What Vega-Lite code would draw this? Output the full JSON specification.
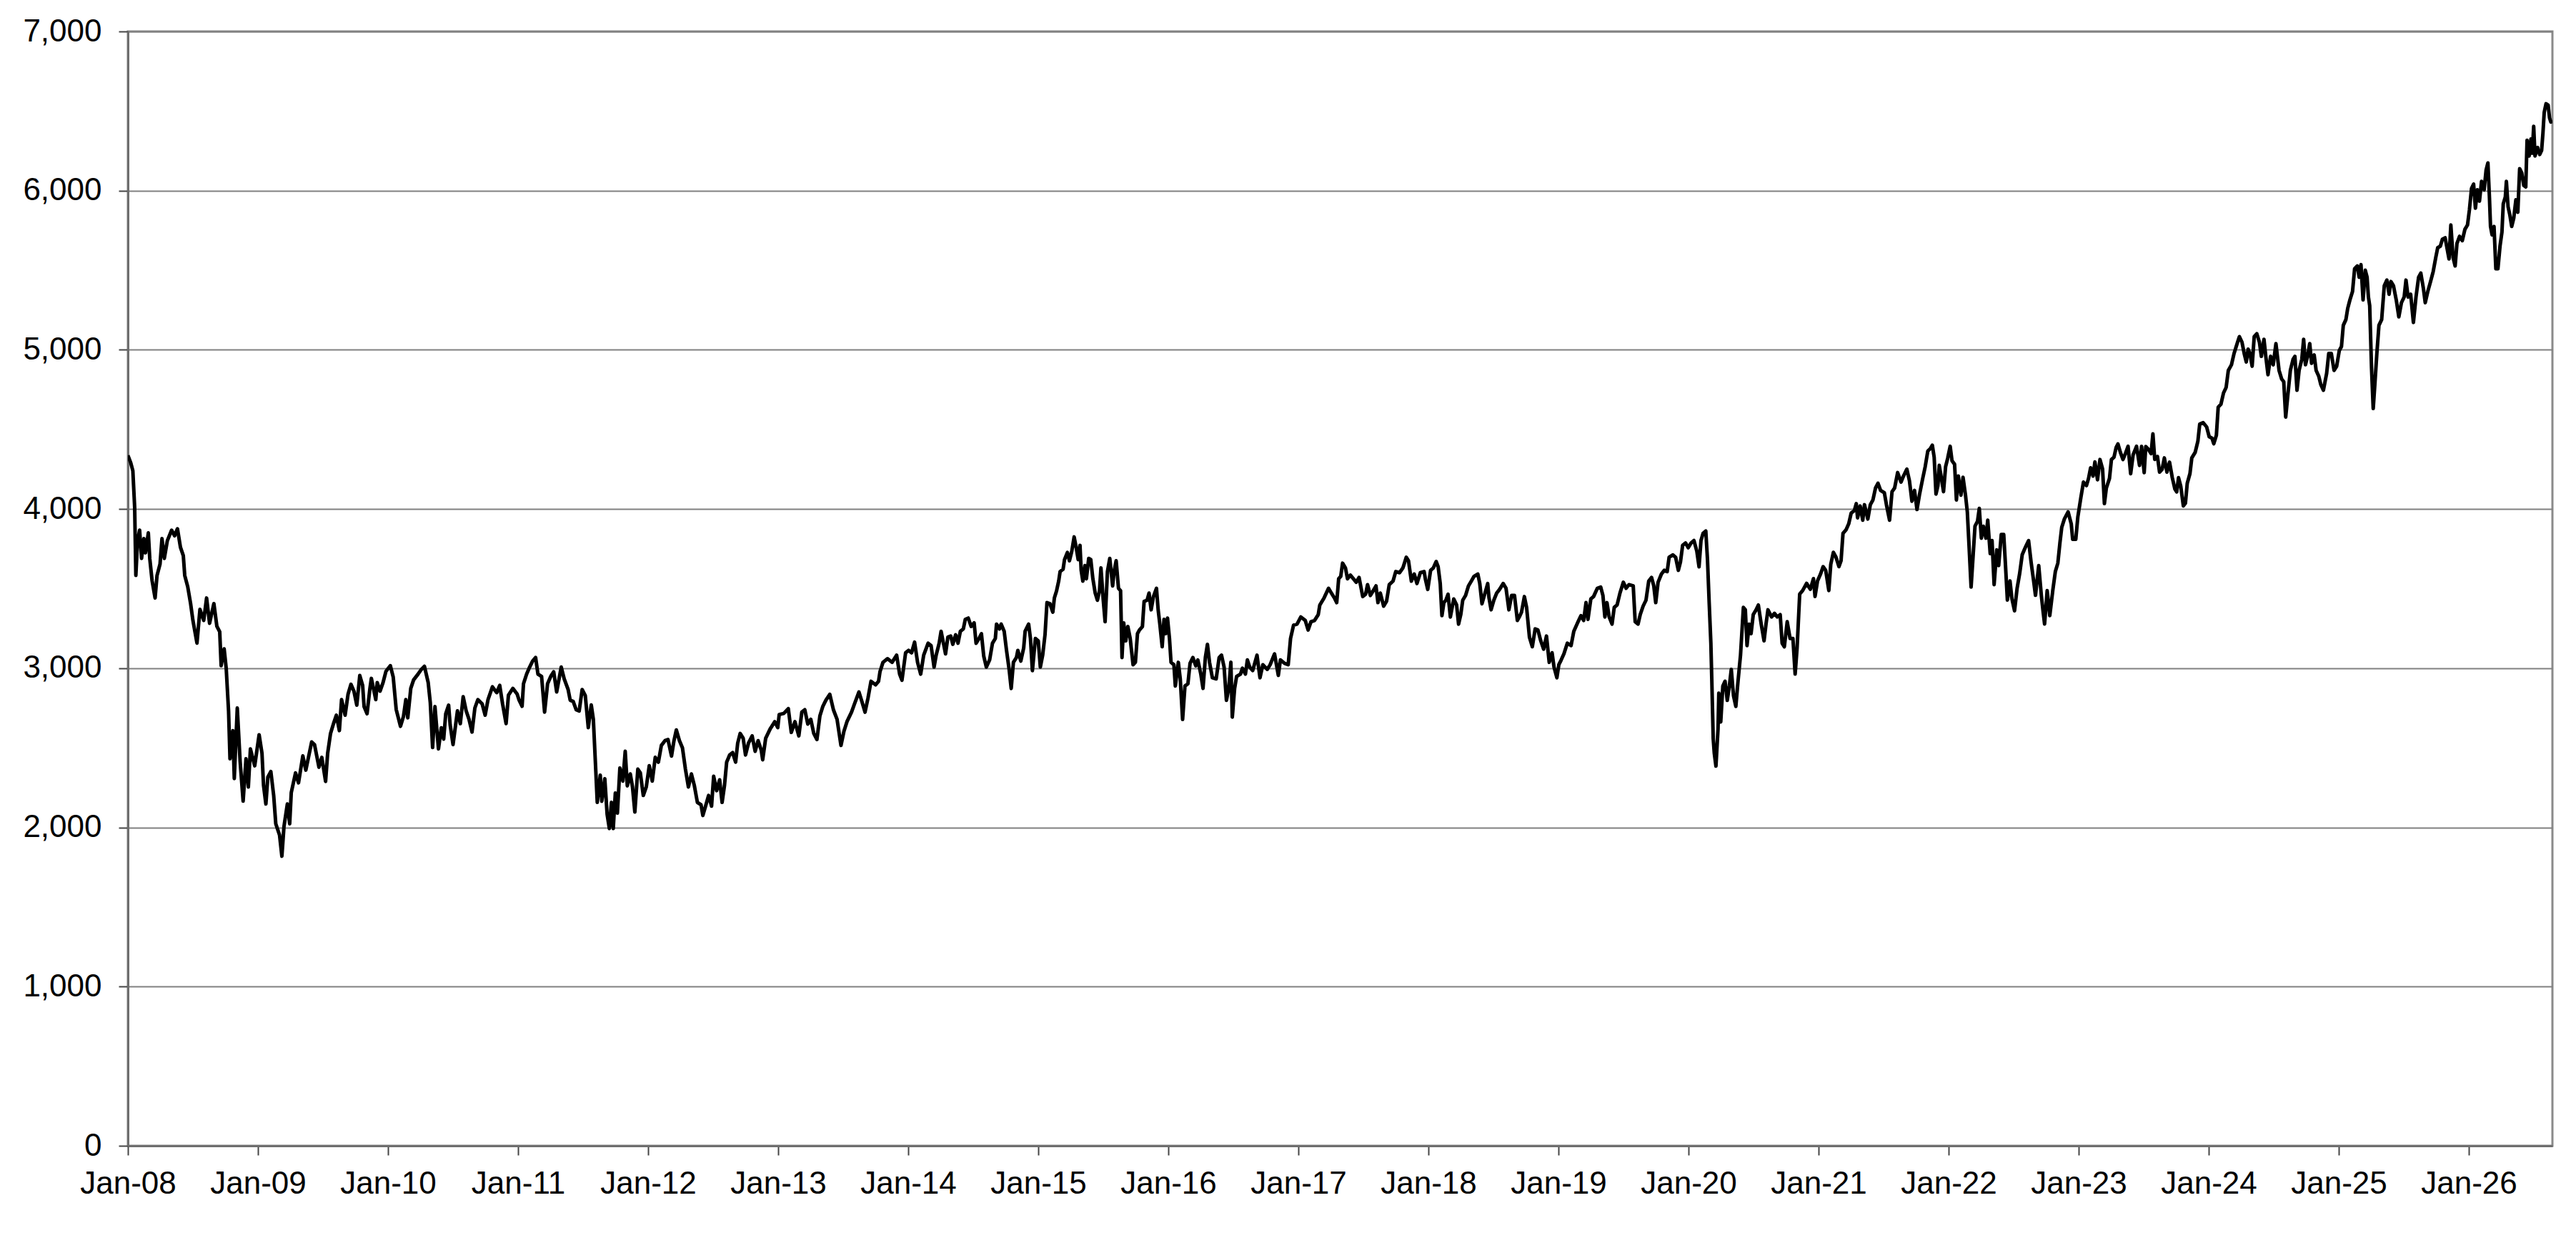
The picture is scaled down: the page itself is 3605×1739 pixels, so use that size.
{
  "$schema": "https://vega.github.io/schema/vega-lite/v6.json",
  "width": 3393,
  "height": 1559,
  "autosize": {"type": "none"},
  "padding": {"left": 179, "top": 44, "right": 33, "bottom": 136},
  "background": "white",
  "data": {
    "values": [
      {"year": 2008.000, "value": 4337}, {"year": 2008.022, "value": 4290}, {"year": 2008.038, "value": 4240}, {"year": 2008.052, "value": 4010},
      {"year": 2008.061, "value": 3583}, {"year": 2008.074, "value": 3800}, {"year": 2008.090, "value": 3867}, {"year": 2008.105, "value": 3690},
      {"year": 2008.123, "value": 3814}, {"year": 2008.135, "value": 3725}, {"year": 2008.157, "value": 3850}, {"year": 2008.168, "value": 3690},
      {"year": 2008.186, "value": 3550}, {"year": 2008.209, "value": 3441}, {"year": 2008.224, "value": 3583}, {"year": 2008.247, "value": 3654},
      {"year": 2008.262, "value": 3814}, {"year": 2008.280, "value": 3690}, {"year": 2008.303, "value": 3800}, {"year": 2008.336, "value": 3867},
      {"year": 2008.359, "value": 3832}, {"year": 2008.381, "value": 3876}, {"year": 2008.404, "value": 3760}, {"year": 2008.426, "value": 3707},
      {"year": 2008.437, "value": 3583}, {"year": 2008.460, "value": 3512}, {"year": 2008.482, "value": 3406}, {"year": 2008.500, "value": 3300},
      {"year": 2008.531, "value": 3158}, {"year": 2008.554, "value": 3370}, {"year": 2008.583, "value": 3300}, {"year": 2008.605, "value": 3441},
      {"year": 2008.628, "value": 3282}, {"year": 2008.661, "value": 3406}, {"year": 2008.684, "value": 3264}, {"year": 2008.706, "value": 3229},
      {"year": 2008.717, "value": 3016}, {"year": 2008.740, "value": 3122}, {"year": 2008.756, "value": 2998}, {"year": 2008.774, "value": 2732},
      {"year": 2008.785, "value": 2431}, {"year": 2008.807, "value": 2608}, {"year": 2008.818, "value": 2307}, {"year": 2008.841, "value": 2750},
      {"year": 2008.863, "value": 2413}, {"year": 2008.886, "value": 2165}, {"year": 2008.908, "value": 2431}, {"year": 2008.926, "value": 2254},
      {"year": 2008.942, "value": 2493}, {"year": 2008.975, "value": 2387}, {"year": 2009.009, "value": 2582}, {"year": 2009.031, "value": 2466},
      {"year": 2009.043, "value": 2263}, {"year": 2009.061, "value": 2147}, {"year": 2009.076, "value": 2316}, {"year": 2009.099, "value": 2351},
      {"year": 2009.121, "value": 2200}, {"year": 2009.137, "value": 2023}, {"year": 2009.166, "value": 1952}, {"year": 2009.184, "value": 1819},
      {"year": 2009.200, "value": 2005}, {"year": 2009.226, "value": 2147}, {"year": 2009.244, "value": 2023}, {"year": 2009.256, "value": 2218},
      {"year": 2009.289, "value": 2342}, {"year": 2009.312, "value": 2280}, {"year": 2009.345, "value": 2449}, {"year": 2009.368, "value": 2360},
      {"year": 2009.413, "value": 2537}, {"year": 2009.435, "value": 2520}, {"year": 2009.469, "value": 2378}, {"year": 2009.491, "value": 2440},
      {"year": 2009.520, "value": 2289}, {"year": 2009.536, "value": 2466}, {"year": 2009.558, "value": 2590}, {"year": 2009.581, "value": 2652},
      {"year": 2009.603, "value": 2705}, {"year": 2009.626, "value": 2608}, {"year": 2009.643, "value": 2803}, {"year": 2009.670, "value": 2705},
      {"year": 2009.693, "value": 2838}, {"year": 2009.715, "value": 2899}, {"year": 2009.738, "value": 2856}, {"year": 2009.760, "value": 2768},
      {"year": 2009.783, "value": 2954}, {"year": 2009.805, "value": 2892}, {"year": 2009.816, "value": 2759}, {"year": 2009.839, "value": 2714},
      {"year": 2009.861, "value": 2873}, {"year": 2009.872, "value": 2936}, {"year": 2009.906, "value": 2803}, {"year": 2009.917, "value": 2910},
      {"year": 2009.939, "value": 2856}, {"year": 2009.962, "value": 2910}, {"year": 2009.984, "value": 2980}, {"year": 2010.018, "value": 3016},
      {"year": 2010.040, "value": 2945}, {"year": 2010.063, "value": 2741}, {"year": 2010.096, "value": 2635}, {"year": 2010.119, "value": 2697},
      {"year": 2010.137, "value": 2803}, {"year": 2010.152, "value": 2688}, {"year": 2010.175, "value": 2873}, {"year": 2010.197, "value": 2927},
      {"year": 2010.231, "value": 2963}, {"year": 2010.253, "value": 2989}, {"year": 2010.280, "value": 3012}, {"year": 2010.309, "value": 2910},
      {"year": 2010.325, "value": 2785}, {"year": 2010.343, "value": 2502}, {"year": 2010.361, "value": 2759}, {"year": 2010.388, "value": 2493},
      {"year": 2010.410, "value": 2626}, {"year": 2010.428, "value": 2555}, {"year": 2010.444, "value": 2714}, {"year": 2010.466, "value": 2768},
      {"year": 2010.478, "value": 2644}, {"year": 2010.500, "value": 2520}, {"year": 2010.534, "value": 2732}, {"year": 2010.556, "value": 2652},
      {"year": 2010.578, "value": 2821}, {"year": 2010.601, "value": 2732}, {"year": 2010.623, "value": 2679}, {"year": 2010.646, "value": 2599},
      {"year": 2010.668, "value": 2750}, {"year": 2010.691, "value": 2803}, {"year": 2010.724, "value": 2776}, {"year": 2010.747, "value": 2705},
      {"year": 2010.769, "value": 2803}, {"year": 2010.803, "value": 2883}, {"year": 2010.836, "value": 2847}, {"year": 2010.859, "value": 2892},
      {"year": 2010.881, "value": 2776}, {"year": 2010.908, "value": 2652}, {"year": 2010.926, "value": 2830}, {"year": 2010.960, "value": 2873},
      {"year": 2010.993, "value": 2838},
      {"year": 2011.008, "value": 2800}, {"year": 2011.031, "value": 2761}, {"year": 2011.042, "value": 2903}, {"year": 2011.066, "value": 2963},
      {"year": 2011.089, "value": 3007}, {"year": 2011.112, "value": 3045}, {"year": 2011.135, "value": 3067}, {"year": 2011.153, "value": 2963},
      {"year": 2011.181, "value": 2948}, {"year": 2011.204, "value": 2724}, {"year": 2011.227, "value": 2903}, {"year": 2011.251, "value": 2948},
      {"year": 2011.274, "value": 2978}, {"year": 2011.297, "value": 2851}, {"year": 2011.332, "value": 3007}, {"year": 2011.355, "value": 2933},
      {"year": 2011.385, "value": 2866}, {"year": 2011.401, "value": 2799}, {"year": 2011.424, "value": 2791}, {"year": 2011.447, "value": 2739},
      {"year": 2011.470, "value": 2731}, {"year": 2011.493, "value": 2866}, {"year": 2011.517, "value": 2828}, {"year": 2011.540, "value": 2627},
      {"year": 2011.563, "value": 2769}, {"year": 2011.579, "value": 2679}, {"year": 2011.598, "value": 2351}, {"year": 2011.609, "value": 2157},
      {"year": 2011.632, "value": 2328}, {"year": 2011.644, "value": 2164}, {"year": 2011.667, "value": 2306}, {"year": 2011.685, "value": 2082},
      {"year": 2011.702, "value": 1993}, {"year": 2011.718, "value": 2157}, {"year": 2011.732, "value": 1993}, {"year": 2011.748, "value": 2216},
      {"year": 2011.764, "value": 2090}, {"year": 2011.783, "value": 2373}, {"year": 2011.806, "value": 2291}, {"year": 2011.824, "value": 2478},
      {"year": 2011.840, "value": 2261}, {"year": 2011.863, "value": 2336}, {"year": 2011.880, "value": 2254}, {"year": 2011.898, "value": 2097},
      {"year": 2011.921, "value": 2366}, {"year": 2011.940, "value": 2343}, {"year": 2011.963, "value": 2201}, {"year": 2011.986, "value": 2254},
      {"year": 2012.009, "value": 2388}, {"year": 2012.032, "value": 2291}, {"year": 2012.055, "value": 2440}, {"year": 2012.079, "value": 2410},
      {"year": 2012.102, "value": 2515}, {"year": 2012.130, "value": 2545}, {"year": 2012.153, "value": 2552}, {"year": 2012.180, "value": 2448},
      {"year": 2012.199, "value": 2545}, {"year": 2012.217, "value": 2612}, {"year": 2012.241, "value": 2545}, {"year": 2012.264, "value": 2500},
      {"year": 2012.287, "value": 2366}, {"year": 2012.310, "value": 2254}, {"year": 2012.333, "value": 2336}, {"year": 2012.356, "value": 2261},
      {"year": 2012.379, "value": 2157}, {"year": 2012.407, "value": 2142}, {"year": 2012.421, "value": 2075}, {"year": 2012.442, "value": 2134},
      {"year": 2012.465, "value": 2201}, {"year": 2012.488, "value": 2134}, {"year": 2012.504, "value": 2321}, {"year": 2012.527, "value": 2231},
      {"year": 2012.550, "value": 2299}, {"year": 2012.569, "value": 2157}, {"year": 2012.587, "value": 2261}, {"year": 2012.604, "value": 2410},
      {"year": 2012.627, "value": 2455}, {"year": 2012.650, "value": 2470}, {"year": 2012.673, "value": 2410}, {"year": 2012.689, "value": 2530},
      {"year": 2012.708, "value": 2590}, {"year": 2012.731, "value": 2560}, {"year": 2012.749, "value": 2455}, {"year": 2012.772, "value": 2530},
      {"year": 2012.800, "value": 2575}, {"year": 2012.823, "value": 2478}, {"year": 2012.846, "value": 2545}, {"year": 2012.870, "value": 2485},
      {"year": 2012.881, "value": 2425}, {"year": 2012.904, "value": 2560}, {"year": 2012.939, "value": 2619}, {"year": 2012.974, "value": 2664},
      {"year": 2012.997, "value": 2627}, {"year": 2013.008, "value": 2709}, {"year": 2013.043, "value": 2716}, {"year": 2013.078, "value": 2746},
      {"year": 2013.101, "value": 2597}, {"year": 2013.129, "value": 2664}, {"year": 2013.159, "value": 2575}, {"year": 2013.182, "value": 2724},
      {"year": 2013.205, "value": 2739}, {"year": 2013.228, "value": 2649}, {"year": 2013.251, "value": 2679}, {"year": 2013.274, "value": 2590},
      {"year": 2013.298, "value": 2552}, {"year": 2013.321, "value": 2701}, {"year": 2013.344, "value": 2761}, {"year": 2013.367, "value": 2799},
      {"year": 2013.397, "value": 2836}, {"year": 2013.425, "value": 2739}, {"year": 2013.453, "value": 2679}, {"year": 2013.483, "value": 2515},
      {"year": 2013.506, "value": 2604}, {"year": 2013.529, "value": 2664}, {"year": 2013.564, "value": 2724}, {"year": 2013.587, "value": 2776},
      {"year": 2013.621, "value": 2851}, {"year": 2013.644, "value": 2791}, {"year": 2013.668, "value": 2724}, {"year": 2013.691, "value": 2813},
      {"year": 2013.714, "value": 2918}, {"year": 2013.749, "value": 2896}, {"year": 2013.772, "value": 2918}, {"year": 2013.783, "value": 2978},
      {"year": 2013.806, "value": 3037}, {"year": 2013.841, "value": 3060}, {"year": 2013.876, "value": 3037}, {"year": 2013.911, "value": 3082},
      {"year": 2013.934, "value": 2963}, {"year": 2013.952, "value": 2925}, {"year": 2013.980, "value": 3097}, {"year": 2014.003, "value": 3112},
      {"year": 2014.026, "value": 3097}, {"year": 2014.049, "value": 3164}, {"year": 2014.072, "value": 3037}, {"year": 2014.096, "value": 2963},
      {"year": 2014.119, "value": 3082}, {"year": 2014.153, "value": 3157}, {"year": 2014.176, "value": 3142},
      {"year": 2014.199, "value": 3007}, {"year": 2014.215, "value": 3082}, {"year": 2014.238, "value": 3157}, {"year": 2014.253, "value": 3232},
      {"year": 2014.271, "value": 3157}, {"year": 2014.287, "value": 3090}, {"year": 2014.305, "value": 3195}, {"year": 2014.327, "value": 3202},
      {"year": 2014.343, "value": 3150}, {"year": 2014.365, "value": 3210}, {"year": 2014.383, "value": 3157}, {"year": 2014.401, "value": 3232},
      {"year": 2014.424, "value": 3247}, {"year": 2014.439, "value": 3307}, {"year": 2014.462, "value": 3315}, {"year": 2014.484, "value": 3262},
      {"year": 2014.507, "value": 3285}, {"year": 2014.522, "value": 3157}, {"year": 2014.545, "value": 3187}, {"year": 2014.563, "value": 3217},
      {"year": 2014.581, "value": 3075}, {"year": 2014.601, "value": 3007}, {"year": 2014.626, "value": 3052}, {"year": 2014.648, "value": 3157},
      {"year": 2014.670, "value": 3187}, {"year": 2014.679, "value": 3277}, {"year": 2014.702, "value": 3247}, {"year": 2014.715, "value": 3277},
      {"year": 2014.738, "value": 3232}, {"year": 2014.756, "value": 3112}, {"year": 2014.776, "value": 2993}, {"year": 2014.792, "value": 2873},
      {"year": 2014.809, "value": 3037}, {"year": 2014.832, "value": 3067}, {"year": 2014.843, "value": 3112}, {"year": 2014.866, "value": 3045},
      {"year": 2014.888, "value": 3127}, {"year": 2014.899, "value": 3232}, {"year": 2014.926, "value": 3277}, {"year": 2014.940, "value": 3187},
      {"year": 2014.955, "value": 2985}, {"year": 2014.978, "value": 3187}, {"year": 2015.000, "value": 3172}, {"year": 2015.016, "value": 3007},
      {"year": 2015.034, "value": 3082}, {"year": 2015.052, "value": 3210}, {"year": 2015.067, "value": 3412}, {"year": 2015.090, "value": 3405},
      {"year": 2015.112, "value": 3352}, {"year": 2015.124, "value": 3442}, {"year": 2015.141, "value": 3487}, {"year": 2015.157, "value": 3547},
      {"year": 2015.168, "value": 3607}, {"year": 2015.191, "value": 3622}, {"year": 2015.202, "value": 3682}, {"year": 2015.224, "value": 3727},
      {"year": 2015.240, "value": 3675}, {"year": 2015.258, "value": 3735}, {"year": 2015.276, "value": 3825}, {"year": 2015.292, "value": 3757},
      {"year": 2015.307, "value": 3682}, {"year": 2015.321, "value": 3772}, {"year": 2015.330, "value": 3615}, {"year": 2015.343, "value": 3547},
      {"year": 2015.359, "value": 3645}, {"year": 2015.370, "value": 3562}, {"year": 2015.388, "value": 3690}, {"year": 2015.404, "value": 3682},
      {"year": 2015.420, "value": 3562}, {"year": 2015.438, "value": 3472}, {"year": 2015.455, "value": 3427}, {"year": 2015.471, "value": 3487},
      {"year": 2015.482, "value": 3630}, {"year": 2015.500, "value": 3427}, {"year": 2015.514, "value": 3292}, {"year": 2015.532, "value": 3607},
      {"year": 2015.550, "value": 3690}, {"year": 2015.572, "value": 3517}, {"year": 2015.583, "value": 3607}, {"year": 2015.599, "value": 3675},
      {"year": 2015.617, "value": 3502}, {"year": 2015.633, "value": 3487}, {"year": 2015.644, "value": 3067}, {"year": 2015.657, "value": 3285},
      {"year": 2015.673, "value": 3172}, {"year": 2015.689, "value": 3262}, {"year": 2015.707, "value": 3187}, {"year": 2015.729, "value": 3022},
      {"year": 2015.747, "value": 3037}, {"year": 2015.763, "value": 3217}, {"year": 2015.778, "value": 3240}, {"year": 2015.801, "value": 3262},
      {"year": 2015.814, "value": 3420}, {"year": 2015.837, "value": 3427}, {"year": 2015.852, "value": 3472}, {"year": 2015.868, "value": 3367},
      {"year": 2015.886, "value": 3450}, {"year": 2015.909, "value": 3502}, {"year": 2015.922, "value": 3367}, {"year": 2015.935, "value": 3277},
      {"year": 2015.953, "value": 3135}, {"year": 2015.967, "value": 3307}, {"year": 2015.980, "value": 3217}, {"year": 2015.994, "value": 3315},
      {"year": 2016.009, "value": 3187}, {"year": 2016.021, "value": 3037}, {"year": 2016.043, "value": 3022}, {"year": 2016.054, "value": 2888},
      {"year": 2016.077, "value": 3037}, {"year": 2016.092, "value": 2933}, {"year": 2016.110, "value": 2678}, {"year": 2016.128, "value": 2888},
      {"year": 2016.151, "value": 2903}, {"year": 2016.167, "value": 3030}, {"year": 2016.189, "value": 3067}, {"year": 2016.211, "value": 3015},
      {"year": 2016.227, "value": 3052}, {"year": 2016.250, "value": 2963}, {"year": 2016.267, "value": 2873}, {"year": 2016.285, "value": 3067},
      {"year": 2016.301, "value": 3150}, {"year": 2016.317, "value": 3037}, {"year": 2016.339, "value": 2940}, {"year": 2016.368, "value": 2933},
      {"year": 2016.391, "value": 3067}, {"year": 2016.409, "value": 3082}, {"year": 2016.429, "value": 3007}, {"year": 2016.447, "value": 2798},
      {"year": 2016.465, "value": 2873}, {"year": 2016.481, "value": 3037}, {"year": 2016.492, "value": 2693}, {"year": 2016.510, "value": 2873},
      {"year": 2016.525, "value": 2948}, {"year": 2016.555, "value": 2963}, {"year": 2016.570, "value": 3000}, {"year": 2016.593, "value": 2963},
      {"year": 2016.608, "value": 3052}, {"year": 2016.626, "value": 3007}, {"year": 2016.649, "value": 2985}, {"year": 2016.682, "value": 3082},
      {"year": 2016.705, "value": 2940}, {"year": 2016.727, "value": 3022}, {"year": 2016.761, "value": 2993}, {"year": 2016.783, "value": 3022},
      {"year": 2016.817, "value": 3090}, {"year": 2016.846, "value": 2955}, {"year": 2016.862, "value": 3052}, {"year": 2016.895, "value": 3030},
      {"year": 2016.922, "value": 3022}, {"year": 2016.940, "value": 3187}, {"year": 2016.963, "value": 3270}, {"year": 2016.990, "value": 3277},
      {"year": 2017.019, "value": 3322}, {"year": 2017.053, "value": 3300}, {"year": 2017.075, "value": 3240}, {"year": 2017.097, "value": 3292},
      {"year": 2017.124, "value": 3300}, {"year": 2017.153, "value": 3337}, {"year": 2017.165, "value": 3397}, {"year": 2017.198, "value": 3442},
      {"year": 2017.232, "value": 3502}, {"year": 2017.254, "value": 3472}, {"year": 2017.277, "value": 3442}, {"year": 2017.295, "value": 3412},
      {"year": 2017.310, "value": 3562}, {"year": 2017.326, "value": 3577}, {"year": 2017.340, "value": 3660}, {"year": 2017.362, "value": 3630},
      {"year": 2017.378, "value": 3562}, {"year": 2017.400, "value": 3585}, {"year": 2017.423, "value": 3562}, {"year": 2017.445, "value": 3540},
      {"year": 2017.467, "value": 3570},
      {"year": 2017.495, "value": 3450}, {"year": 2017.517, "value": 3465}, {"year": 2017.532, "value": 3525}, {"year": 2017.554, "value": 3457},
      {"year": 2017.576, "value": 3487}, {"year": 2017.597, "value": 3517}, {"year": 2017.612, "value": 3412}, {"year": 2017.630, "value": 3472},
      {"year": 2017.656, "value": 3390}, {"year": 2017.678, "value": 3420}, {"year": 2017.699, "value": 3525}, {"year": 2017.728, "value": 3547},
      {"year": 2017.749, "value": 3607}, {"year": 2017.778, "value": 3600}, {"year": 2017.804, "value": 3630}, {"year": 2017.830, "value": 3697},
      {"year": 2017.847, "value": 3675}, {"year": 2017.869, "value": 3547}, {"year": 2017.891, "value": 3592}, {"year": 2017.912, "value": 3532},
      {"year": 2017.938, "value": 3600}, {"year": 2017.967, "value": 3607}, {"year": 2017.978, "value": 3555}, {"year": 2017.995, "value": 3495},
      {"year": 2018.017, "value": 3615}, {"year": 2018.038, "value": 3630}, {"year": 2018.060, "value": 3670}, {"year": 2018.075, "value": 3637},
      {"year": 2018.091, "value": 3532}, {"year": 2018.104, "value": 3330}, {"year": 2018.119, "value": 3412}, {"year": 2018.134, "value": 3427},
      {"year": 2018.151, "value": 3465}, {"year": 2018.169, "value": 3322}, {"year": 2018.195, "value": 3435}, {"year": 2018.217, "value": 3397},
      {"year": 2018.232, "value": 3277}, {"year": 2018.249, "value": 3337}, {"year": 2018.264, "value": 3427}, {"year": 2018.286, "value": 3457},
      {"year": 2018.308, "value": 3517}, {"year": 2018.330, "value": 3547}, {"year": 2018.351, "value": 3577}, {"year": 2018.380, "value": 3592},
      {"year": 2018.395, "value": 3532}, {"year": 2018.412, "value": 3405}, {"year": 2018.430, "value": 3457}, {"year": 2018.456, "value": 3532},
      {"year": 2018.466, "value": 3442}, {"year": 2018.482, "value": 3367}, {"year": 2018.503, "value": 3427}, {"year": 2018.525, "value": 3472},
      {"year": 2018.547, "value": 3495}, {"year": 2018.575, "value": 3532}, {"year": 2018.597, "value": 3502}, {"year": 2018.619, "value": 3367},
      {"year": 2018.640, "value": 3457}, {"year": 2018.662, "value": 3457}, {"year": 2018.684, "value": 3300}, {"year": 2018.699, "value": 3322},
      {"year": 2018.716, "value": 3352}, {"year": 2018.738, "value": 3450}, {"year": 2018.755, "value": 3382}, {"year": 2018.777, "value": 3195},
      {"year": 2018.799, "value": 3135}, {"year": 2018.821, "value": 3247}, {"year": 2018.842, "value": 3240}, {"year": 2018.864, "value": 3172},
      {"year": 2018.886, "value": 3120}, {"year": 2018.908, "value": 3202}, {"year": 2018.929, "value": 3037}, {"year": 2018.951, "value": 3097},
      {"year": 2018.966, "value": 3007}, {"year": 2018.988, "value": 2940}, {"year": 2019.003, "value": 3022}, {"year": 2019.021, "value": 3052},
      {"year": 2019.042, "value": 3090}, {"year": 2019.068, "value": 3157}, {"year": 2019.097, "value": 3142}, {"year": 2019.118, "value": 3232},
      {"year": 2019.151, "value": 3292}, {"year": 2019.173, "value": 3330}, {"year": 2019.194, "value": 3300}, {"year": 2019.212, "value": 3412},
      {"year": 2019.227, "value": 3307}, {"year": 2019.249, "value": 3435}, {"year": 2019.270, "value": 3450}, {"year": 2019.299, "value": 3502},
      {"year": 2019.325, "value": 3510}, {"year": 2019.342, "value": 3457}, {"year": 2019.357, "value": 3322}, {"year": 2019.373, "value": 3412},
      {"year": 2019.390, "value": 3322}, {"year": 2019.412, "value": 3277}, {"year": 2019.429, "value": 3382}, {"year": 2019.451, "value": 3397},
      {"year": 2019.473, "value": 3472}, {"year": 2019.499, "value": 3540}, {"year": 2019.520, "value": 3502}, {"year": 2019.542, "value": 3525},
      {"year": 2019.575, "value": 3517}, {"year": 2019.590, "value": 3292}, {"year": 2019.612, "value": 3277}, {"year": 2019.629, "value": 3337},
      {"year": 2019.651, "value": 3390}, {"year": 2019.673, "value": 3427}, {"year": 2019.694, "value": 3547}, {"year": 2019.716, "value": 3570},
      {"year": 2019.733, "value": 3517}, {"year": 2019.748, "value": 3412}, {"year": 2019.766, "value": 3540}, {"year": 2019.792, "value": 3592},
      {"year": 2019.814, "value": 3615}, {"year": 2019.836, "value": 3607}, {"year": 2019.851, "value": 3697}, {"year": 2019.879, "value": 3712},
      {"year": 2019.901, "value": 3697}, {"year": 2019.922, "value": 3615}, {"year": 2019.938, "value": 3667}, {"year": 2019.955, "value": 3772},
      {"year": 2019.977, "value": 3787}, {"year": 2019.998, "value": 3757}, {"year": 2020.020, "value": 3787}, {"year": 2020.042, "value": 3802},
      {"year": 2020.064, "value": 3735}, {"year": 2020.081, "value": 3637}, {"year": 2020.096, "value": 3802}, {"year": 2020.112, "value": 3847},
      {"year": 2020.133, "value": 3862}, {"year": 2020.146, "value": 3682}, {"year": 2020.159, "value": 3412}, {"year": 2020.172, "value": 3157},
      {"year": 2020.179, "value": 2933}, {"year": 2020.190, "value": 2558}, {"year": 2020.198, "value": 2468}, {"year": 2020.211, "value": 2385},
      {"year": 2020.227, "value": 2618}, {"year": 2020.233, "value": 2843}, {"year": 2020.248, "value": 2663}, {"year": 2020.264, "value": 2888},
      {"year": 2020.281, "value": 2918}, {"year": 2020.298, "value": 2798}, {"year": 2020.314, "value": 2888}, {"year": 2020.329, "value": 2993},
      {"year": 2020.346, "value": 2828}, {"year": 2020.364, "value": 2760}, {"year": 2020.379, "value": 2903}, {"year": 2020.400, "value": 3082},
      {"year": 2020.422, "value": 3382}, {"year": 2020.437, "value": 3367}, {"year": 2020.450, "value": 3142}, {"year": 2020.466, "value": 3277},
      {"year": 2020.481, "value": 3217}, {"year": 2020.498, "value": 3337}, {"year": 2020.520, "value": 3367}, {"year": 2020.537, "value": 3397},
      {"year": 2020.559, "value": 3277}, {"year": 2020.581, "value": 3172}, {"year": 2020.596, "value": 3277}, {"year": 2020.611, "value": 3367},
      {"year": 2020.639, "value": 3322}, {"year": 2020.661, "value": 3345}, {"year": 2020.683, "value": 3322}, {"year": 2020.705, "value": 3337},
      {"year": 2020.720, "value": 3157}, {"year": 2020.737, "value": 3135}, {"year": 2020.759, "value": 3292}, {"year": 2020.781, "value": 3187},
      {"year": 2020.803, "value": 3187}, {"year": 2020.820, "value": 2963}, {"year": 2020.835, "value": 3127},
      {"year": 2020.855, "value": 3466}, {"year": 2020.878, "value": 3488}, {"year": 2020.908, "value": 3533}, {"year": 2020.937, "value": 3496},
      {"year": 2020.961, "value": 3563}, {"year": 2020.973, "value": 3451}, {"year": 2020.992, "value": 3548}, {"year": 2021.016, "value": 3593},
      {"year": 2021.035, "value": 3638}, {"year": 2021.055, "value": 3615}, {"year": 2021.079, "value": 3488}, {"year": 2021.094, "value": 3653},
      {"year": 2021.114, "value": 3728}, {"year": 2021.134, "value": 3698}, {"year": 2021.157, "value": 3638}, {"year": 2021.173, "value": 3675},
      {"year": 2021.188, "value": 3847}, {"year": 2021.212, "value": 3870}, {"year": 2021.232, "value": 3907}, {"year": 2021.251, "value": 3975},
      {"year": 2021.275, "value": 3990}, {"year": 2021.290, "value": 4034}, {"year": 2021.300, "value": 3945}, {"year": 2021.320, "value": 4019},
      {"year": 2021.340, "value": 3930}, {"year": 2021.353, "value": 4027}, {"year": 2021.379, "value": 3937}, {"year": 2021.398, "value": 4027},
      {"year": 2021.418, "value": 4057}, {"year": 2021.438, "value": 4132}, {"year": 2021.457, "value": 4162}, {"year": 2021.477, "value": 4117},
      {"year": 2021.506, "value": 4102}, {"year": 2021.522, "value": 4027}, {"year": 2021.546, "value": 3930}, {"year": 2021.565, "value": 4109},
      {"year": 2021.585, "value": 4132}, {"year": 2021.608, "value": 4229}, {"year": 2021.634, "value": 4169}, {"year": 2021.653, "value": 4207},
      {"year": 2021.679, "value": 4251}, {"year": 2021.699, "value": 4177}, {"year": 2021.718, "value": 4049}, {"year": 2021.738, "value": 4117},
      {"year": 2021.757, "value": 3997}, {"year": 2021.777, "value": 4094}, {"year": 2021.801, "value": 4192}, {"year": 2021.820, "value": 4266},
      {"year": 2021.840, "value": 4364}, {"year": 2021.859, "value": 4379}, {"year": 2021.875, "value": 4401}, {"year": 2021.889, "value": 4326},
      {"year": 2021.903, "value": 4094}, {"year": 2021.918, "value": 4147}, {"year": 2021.928, "value": 4274}, {"year": 2021.948, "value": 4177},
      {"year": 2021.961, "value": 4109}, {"year": 2021.977, "value": 4266}, {"year": 2021.993, "value": 4319}, {"year": 2022.012, "value": 4394},
      {"year": 2022.026, "value": 4304}, {"year": 2022.046, "value": 4281}, {"year": 2022.060, "value": 4057}, {"year": 2022.075, "value": 4207},
      {"year": 2022.095, "value": 4087}, {"year": 2022.111, "value": 4199}, {"year": 2022.130, "value": 4087}, {"year": 2022.144, "value": 3982},
      {"year": 2022.158, "value": 3757}, {"year": 2022.173, "value": 3510}, {"year": 2022.189, "value": 3713}, {"year": 2022.203, "value": 3892},
      {"year": 2022.222, "value": 3922}, {"year": 2022.236, "value": 4004}, {"year": 2022.252, "value": 3817}, {"year": 2022.267, "value": 3892},
      {"year": 2022.287, "value": 3817}, {"year": 2022.301, "value": 3930}, {"year": 2022.320, "value": 3720}, {"year": 2022.334, "value": 3802},
      {"year": 2022.350, "value": 3525}, {"year": 2022.370, "value": 3743}, {"year": 2022.385, "value": 3645}, {"year": 2022.405, "value": 3840},
      {"year": 2022.424, "value": 3840}, {"year": 2022.438, "value": 3638}, {"year": 2022.452, "value": 3428}, {"year": 2022.472, "value": 3548},
      {"year": 2022.487, "value": 3436}, {"year": 2022.507, "value": 3361}, {"year": 2022.527, "value": 3503}, {"year": 2022.546, "value": 3593},
      {"year": 2022.566, "value": 3713}, {"year": 2022.589, "value": 3757}, {"year": 2022.615, "value": 3802}, {"year": 2022.634, "value": 3668},
      {"year": 2022.654, "value": 3548}, {"year": 2022.668, "value": 3458}, {"year": 2022.693, "value": 3645}, {"year": 2022.713, "value": 3458},
      {"year": 2022.727, "value": 3353}, {"year": 2022.738, "value": 3278}, {"year": 2022.758, "value": 3488}, {"year": 2022.778, "value": 3331},
      {"year": 2022.801, "value": 3488}, {"year": 2022.821, "value": 3608}, {"year": 2022.840, "value": 3660}, {"year": 2022.856, "value": 3787},
      {"year": 2022.870, "value": 3885}, {"year": 2022.890, "value": 3937}, {"year": 2022.919, "value": 3982}, {"year": 2022.943, "value": 3907},
      {"year": 2022.954, "value": 3810}, {"year": 2022.978, "value": 3810}, {"year": 2022.994, "value": 3952}, {"year": 2023.017, "value": 4072},
      {"year": 2023.037, "value": 4169}, {"year": 2023.060, "value": 4147}, {"year": 2023.076, "value": 4192}, {"year": 2023.092, "value": 4259},
      {"year": 2023.111, "value": 4207}, {"year": 2023.125, "value": 4296}, {"year": 2023.145, "value": 4184}, {"year": 2023.164, "value": 4311},
      {"year": 2023.184, "value": 4251}, {"year": 2023.198, "value": 4034}, {"year": 2023.213, "value": 4132}, {"year": 2023.237, "value": 4192},
      {"year": 2023.252, "value": 4311}, {"year": 2023.272, "value": 4326}, {"year": 2023.288, "value": 4386}, {"year": 2023.302, "value": 4409},
      {"year": 2023.321, "value": 4356}, {"year": 2023.341, "value": 4311}, {"year": 2023.360, "value": 4349}, {"year": 2023.380, "value": 4394},
      {"year": 2023.400, "value": 4222}, {"year": 2023.419, "value": 4341}, {"year": 2023.445, "value": 4394}, {"year": 2023.468, "value": 4274},
      {"year": 2023.484, "value": 4394}, {"year": 2023.504, "value": 4229},
      {"year": 2023.516, "value": 4392}, {"year": 2023.537, "value": 4374}, {"year": 2023.557, "value": 4348}, {"year": 2023.571, "value": 4472},
      {"year": 2023.585, "value": 4312}, {"year": 2023.606, "value": 4330}, {"year": 2023.622, "value": 4232}, {"year": 2023.642, "value": 4250},
      {"year": 2023.659, "value": 4321}, {"year": 2023.679, "value": 4232}, {"year": 2023.699, "value": 4294}, {"year": 2023.720, "value": 4197},
      {"year": 2023.740, "value": 4126}, {"year": 2023.754, "value": 4108}, {"year": 2023.768, "value": 4197}, {"year": 2023.785, "value": 4144},
      {"year": 2023.805, "value": 4020}, {"year": 2023.821, "value": 4037}, {"year": 2023.835, "value": 4161}, {"year": 2023.856, "value": 4223},
      {"year": 2023.870, "value": 4321}, {"year": 2023.896, "value": 4356}, {"year": 2023.917, "value": 4427}, {"year": 2023.931, "value": 4534},
      {"year": 2023.957, "value": 4543}, {"year": 2023.984, "value": 4516}, {"year": 2024.004, "value": 4454}, {"year": 2024.025, "value": 4445},
      {"year": 2024.039, "value": 4410}, {"year": 2024.059, "value": 4463}, {"year": 2024.073, "value": 4640}, {"year": 2024.094, "value": 4658},
      {"year": 2024.114, "value": 4729}, {"year": 2024.134, "value": 4764}, {"year": 2024.151, "value": 4871}, {"year": 2024.175, "value": 4906},
      {"year": 2024.195, "value": 4977}, {"year": 2024.222, "value": 5048}, {"year": 2024.236, "value": 5083}, {"year": 2024.256, "value": 5048},
      {"year": 2024.273, "value": 4977}, {"year": 2024.289, "value": 4924}, {"year": 2024.303, "value": 5004}, {"year": 2024.317, "value": 4977},
      {"year": 2024.334, "value": 4897}, {"year": 2024.350, "value": 5083}, {"year": 2024.370, "value": 5101}, {"year": 2024.390, "value": 5048},
      {"year": 2024.405, "value": 4959}, {"year": 2024.425, "value": 5066}, {"year": 2024.439, "value": 4959}, {"year": 2024.456, "value": 4844},
      {"year": 2024.476, "value": 4959}, {"year": 2024.496, "value": 4906}, {"year": 2024.517, "value": 5039}, {"year": 2024.541, "value": 4871},
      {"year": 2024.561, "value": 4817}, {"year": 2024.577, "value": 4800}, {"year": 2024.592, "value": 4578}, {"year": 2024.608, "value": 4711},
      {"year": 2024.628, "value": 4871}, {"year": 2024.649, "value": 4941}, {"year": 2024.663, "value": 4959}, {"year": 2024.679, "value": 4746},
      {"year": 2024.695, "value": 4871}, {"year": 2024.716, "value": 4941}, {"year": 2024.730, "value": 5066}, {"year": 2024.744, "value": 4906},
      {"year": 2024.760, "value": 4959}, {"year": 2024.777, "value": 5039}, {"year": 2024.791, "value": 4915}, {"year": 2024.811, "value": 4968},
      {"year": 2024.826, "value": 4871}, {"year": 2024.846, "value": 4835}, {"year": 2024.862, "value": 4782}, {"year": 2024.882, "value": 4746},
      {"year": 2024.907, "value": 4853}, {"year": 2024.923, "value": 4977}, {"year": 2024.943, "value": 4977}, {"year": 2024.964, "value": 4871},
      {"year": 2024.984, "value": 4897}, {"year": 2025.004, "value": 4995}, {"year": 2025.021, "value": 5021}, {"year": 2025.035, "value": 5154},
      {"year": 2025.055, "value": 5190}, {"year": 2025.069, "value": 5261}, {"year": 2025.086, "value": 5314}, {"year": 2025.106, "value": 5367},
      {"year": 2025.122, "value": 5509}, {"year": 2025.143, "value": 5527}, {"year": 2025.157, "value": 5456}, {"year": 2025.171, "value": 5535},
      {"year": 2025.187, "value": 5314}, {"year": 2025.204, "value": 5500}, {"year": 2025.218, "value": 5456}, {"year": 2025.228, "value": 5332},
      {"year": 2025.238, "value": 5278}, {"year": 2025.252, "value": 4888}, {"year": 2025.265, "value": 4631}, {"year": 2025.279, "value": 4800},
      {"year": 2025.293, "value": 4977}, {"year": 2025.309, "value": 5154}, {"year": 2025.330, "value": 5190}, {"year": 2025.350, "value": 5402},
      {"year": 2025.370, "value": 5438}, {"year": 2025.387, "value": 5349}, {"year": 2025.401, "value": 5429}, {"year": 2025.421, "value": 5402},
      {"year": 2025.442, "value": 5314}, {"year": 2025.462, "value": 5207}, {"year": 2025.482, "value": 5296}, {"year": 2025.503, "value": 5332},
      {"year": 2025.517, "value": 5438}, {"year": 2025.533, "value": 5332}, {"year": 2025.553, "value": 5349}, {"year": 2025.574, "value": 5172},
      {"year": 2025.594, "value": 5332}, {"year": 2025.614, "value": 5456}, {"year": 2025.631, "value": 5482}, {"year": 2025.651, "value": 5385},
      {"year": 2025.665, "value": 5296}, {"year": 2025.685, "value": 5367}, {"year": 2025.706, "value": 5429}, {"year": 2025.726, "value": 5491},
      {"year": 2025.746, "value": 5580}, {"year": 2025.761, "value": 5642}, {"year": 2025.781, "value": 5651}, {"year": 2025.797, "value": 5695},
      {"year": 2025.818, "value": 5704}, {"year": 2025.838, "value": 5615}, {"year": 2025.848, "value": 5571}, {"year": 2025.862, "value": 5784},
      {"year": 2025.879, "value": 5580}, {"year": 2025.895, "value": 5527}, {"year": 2025.909, "value": 5668}, {"year": 2025.929, "value": 5713},
      {"year": 2025.950, "value": 5686}, {"year": 2025.970, "value": 5757}, {"year": 2025.990, "value": 5784}, {"year": 2026.005, "value": 5881},
      {"year": 2026.021, "value": 6014}, {"year": 2026.037, "value": 6041}, {"year": 2026.051, "value": 5890}, {"year": 2026.066, "value": 6005},
      {"year": 2026.082, "value": 5934}, {"year": 2026.098, "value": 6058}, {"year": 2026.118, "value": 6005}, {"year": 2026.133, "value": 6129},
      {"year": 2026.147, "value": 6174}, {"year": 2026.159, "value": 5952}, {"year": 2026.167, "value": 5775}, {"year": 2026.179, "value": 5722},
      {"year": 2026.194, "value": 5775}, {"year": 2026.208, "value": 5509}, {"year": 2026.224, "value": 5509}, {"year": 2026.240, "value": 5651},
      {"year": 2026.255, "value": 5740}, {"year": 2026.265, "value": 5917}, {"year": 2026.281, "value": 5961}, {"year": 2026.289, "value": 6058},
      {"year": 2026.302, "value": 5899}, {"year": 2026.316, "value": 5846}, {"year": 2026.330, "value": 5775}, {"year": 2026.346, "value": 5828},
      {"year": 2026.362, "value": 5943}, {"year": 2026.377, "value": 5864}, {"year": 2026.391, "value": 6138}, {"year": 2026.407, "value": 6112},
      {"year": 2026.423, "value": 6032}, {"year": 2026.438, "value": 6023}, {"year": 2026.448, "value": 6316}, {"year": 2026.464, "value": 6218},
      {"year": 2026.478, "value": 6324}, {"year": 2026.488, "value": 6236}, {"year": 2026.499, "value": 6404}, {"year": 2026.509, "value": 6218},
      {"year": 2026.529, "value": 6271}, {"year": 2026.545, "value": 6227}, {"year": 2026.560, "value": 6253}, {"year": 2026.570, "value": 6360},
      {"year": 2026.580, "value": 6493}, {"year": 2026.594, "value": 6546}, {"year": 2026.610, "value": 6537}, {"year": 2026.621, "value": 6457},
      {"year": 2026.631, "value": 6431}, {"year": 2026.641, "value": 6440}
    ]
  },
  "mark": {"type": "line", "color": "#000000", "strokeWidth": 5, "strokeJoin": "round", "clip": true},
  "encoding": {
    "x": {
      "field": "year",
      "type": "quantitative",
      "scale": {"domain": [2008, 2026.643], "nice": false, "zero": false},
      "axis": {
        "title": null,
        "grid": false,
        "values": [2008, 2009, 2010, 2011, 2012, 2013, 2014, 2015, 2016, 2017, 2018, 2019, 2020, 2021, 2022, 2023, 2024, 2025, 2026],
        "format": "d",
        "labelExpr": "'Jan-' + substring(datum.label, 2, 4)",
        "labelPadding": 18,
        "labelFlush": false,
        "labelOverlap": false
      }
    },
    "y": {
      "field": "value",
      "type": "quantitative",
      "scale": {"domain": [0, 7000], "nice": false},
      "axis": {
        "title": null,
        "grid": true,
        "values": [0, 1000, 2000, 3000, 4000, 5000, 6000, 7000],
        "format": ",.0f",
        "labelPadding": 24
      }
    }
  },
  "config": {
    "view": {"stroke": "#8a8a8a", "strokeWidth": 3},
    "axis": {
      "domainColor": "#6e6e6e",
      "domainWidth": 3,
      "tickColor": "#444444",
      "tickWidth": 2,
      "tickSize": 13,
      "gridColor": "#808080",
      "gridWidth": 2,
      "labelFont": "Liberation Sans",
      "labelFontSize": 44,
      "labelColor": "#000000"
    }
  }
}
